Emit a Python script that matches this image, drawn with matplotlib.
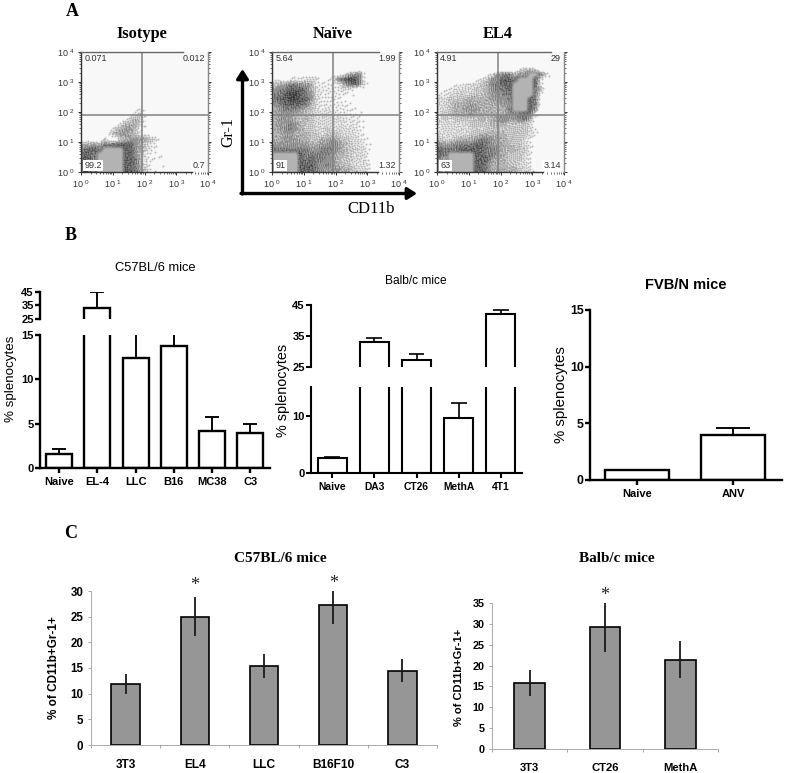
import matplotlib
matplotlib.use("Agg")
import matplotlib.pyplot as plt
import numpy as np

W, H = 786, 773
SANS = "Liberation Sans"
SERIF = "Liberation Serif"

# flow plots: dot density 0-9 read by eye, x = saturated grey core, top row first
iso_rows = [
    "", "", "", "", "", "", "", "",
    "000000000110", "", "",
    "0000000000220",
    "0000000002340",
    "000000012453",
    "0000001355531",
    "0000024566410",
    "000003566542100",
    "110040045666542100",
    "556577888865321",
    "7887xxxx88653210",
    "887xxxxx88642110",
    "887xxxxx88742111",
    "887xxxxx88742111",
    "887xxxxx88753100",
]
naive_rows = [
    "", "", "",
    "000100100111000011",
    "000111111101125672",
    "220222333012789972",
    "456776652222257873",
    "677888753222233200",
    "7789987632222211",
    "7889988632222110",
    "6788887532222211",
    "56777654323222211",
    "566655443333222210",
    "5666545433333322210",
    "5667654433333323210",
    "5667654433433333210",
    "5566555443444333210",
    "5566655445565443321",
    "6666666556676543321",
    "7777777667776544331",
    "xxxxx87777765543331",
    "xxxxx87877665443331",
    "xxxxx88876765443332",
    "xxxxx88876666554332",
]
el4_rows = [
    "", "", "",
    "000000000000000344300",
    "00000000023677566xx741",
    "000000023467887xxx83",
    "00122333457788xxxx82",
    "12233334456778xxxx75",
    "22334344456677xxxx72",
    "33444555556667xxx871",
    "33455565555566xxx871",
    "33455666555557xxx86",
    "3445556555555667872",
    "3434444454567667751",
    "333333444455544443",
    "2333333434444444432",
    "3333334455555444432",
    "433455567765544432",
    "666777788766554432",
    "877788888776555442",
    "87xxxxx88776544432",
    "75xxxxx88865544432",
    "75xxxxx88755544332",
    "75xxxxx88755555433",
]
flow_titles = ["Isotype", "Naïve", "EL4"]
flow_tl = ["0.071", "5.64", "4.91"]
flow_tr = ["0.012", "1.99", "29"]
flow_bl = ["99.2", "91", "63"]
flow_br = ["0.7", "1.32", "3.14"]

# panel B
b1_names = ["Naive", "EL-4", "LLC", "B16", "MC38", "C3"]
b1_vals = [1.6, 33, 12.4, 13.8, 4.2, 3.9]
b1_err = [0.5, 12, 3.6, 2.2, 1.5, 1.1]
b2_names = ["Naive", "DA3", "CT26", "MethA", "4T1"]
b2_vals = [2.6, 33.2, 27.4, 9.6, 42.1]
b2_err = [0.2, 1.2, 1.9, 2.6, 1.3]
b3_names = ["Naive", "ANV"]
b3_vals = [0.85, 4.0]
b3_err = [0, 0.55]

# panel C
c1_names = ["3T3", "EL4", "LLC", "B16F10", "C3"]
c1_vals = [11.9, 25, 15.4, 27.3, 14.5]
c1_err = [1.9, 3.8, 2.35, 3.7, 2.25]
c1_star = [None, 31.0, None, 31.4, None]
c2_names = ["3T3", "CT26", "MethA"]
c2_vals = [15.8, 29.2, 21.4]
c2_err = [3.2, 5.9, 4.4]
c2_star = [None, 36.7, None]

fig = plt.figure(figsize=(W / 100, H / 100), dpi=100)


def ax_px(left, top, right, bottom):
    return fig.add_axes([left / W, 1 - bottom / H, (right - left) / W, (bottom - top) / H])


def txt(x, y, s, **kw):
    kw.setdefault("ha", "center")
    kw.setdefault("va", "center")
    fig.text(x / W, 1 - y / H, s, **kw)


def upsample(grid, nw, nh):
    px = (np.arange(nw) + 0.5) / nw * grid.shape[1] - 0.5
    py = (np.arange(nh) + 0.5) / nh * grid.shape[0] - 0.5
    tmp = np.array([np.interp(px, np.arange(grid.shape[1]), r) for r in grid])
    return np.array([np.interp(py, np.arange(grid.shape[0]), c) for c in tmp.T]).T


def soften(img):
    pad = np.pad(img, 1, mode="edge")
    return (4 * img + pad[:-2, 1:-1] + pad[2:, 1:-1] + pad[1:-1, :-2] + pad[1:-1, 2:]) / 8


def speckle(rows, nw=127, nh=120):
    # turn the density grid into dots by error diffusion
    clean = [r.ljust(24, "0")[:24] for r in rows]
    dens = np.array([[9 if c == "x" else int(c) for c in r] for r in clean], dtype=float)
    core = np.array([[1.0 if c == "x" else 0.0 for c in r] for r in clean])
    d = (upsample(dens, nw, nh) / 10) ** 1.5
    c = upsample(core, nw, nh)
    for _ in range(4):
        c = soften(c)
    c = np.clip(c * 1.4 - 0.2, 0, 1)
    dots = np.zeros((nh, nw))
    for j in range(nh):
        for i in range(nw):
            old = d[j, i]
            dots[j, i] = 1.0 if old > 0.5 else 0.0
            e = old - dots[j, i]
            if i + 1 < nw:
                d[j, i + 1] += e * 7 / 16
            if j + 1 < nh:
                if i > 0:
                    d[j + 1, i - 1] += e * 3 / 16
                d[j + 1, i] += e * 5 / 16
                if i + 1 < nw:
                    d[j + 1, i + 1] += e * 1 / 16
    img = soften(soften(0.97 - 0.8 * dots))
    return img * (1 - c) + 0.7 * c


def flow(left, rows, title, tl, tr, bl, br, top_end, bot_end):
    ax = ax_px(left, 52, left + 127, 172)
    ax.imshow(speckle(rows), cmap="gray", vmin=0, vmax=1, extent=(0, 4, 0, 4),
              interpolation="nearest", aspect="auto")
    ax.axvline(1.92, color="#808080", lw=1.1)
    ax.axhline(1.9, color="#808080", lw=1.1)
    ax.set_xlim(0, 4)
    ax.set_ylim(0, 4)
    ax.set_xticks(range(5))
    ax.set_yticks(range(5))
    ax.set_xticklabels(["$\\mathregular{10^{\\ %d}}$" % i for i in range(5)], fontsize=6.5, family=SANS, color="#333333")
    ax.set_yticklabels(["$\\mathregular{10^{\\ %d}}$" % i for i in range(5)], fontsize=6.5, family=SANS, color="#333333")
    minor = [d + np.log10(m) for d in range(4) for m in range(2, 10)]
    ax.set_xticks(minor, minor=True)
    ax.set_yticks(minor, minor=True)
    ax.tick_params(which="major", length=2.5, width=0.7, pad=2, color="#333333", right=True)
    ax.tick_params(which="minor", length=1.3, width=0.5, color="#333333", right=True)
    for s in ax.spines.values():
        s.set_linewidth(1.0)
    ax.spines["top"].set_color("#666666")
    ax.spines["right"].set_color("#888888")
    ax.spines["left"].set_color("#333333")
    ax.spines["bottom"].set_color("#333333")
    ax.spines["top"].set_bounds(0, top_end)
    ax.spines["bottom"].set_bounds(0, bot_end)
    st = dict(fontsize=6.5, family=SANS, color="#333333", va="center")
    ax.text(0.1, 3.77, tl, ha="left", **st)
    ax.text(3.9, 3.77, tr, ha="right", **st)
    box = dict(facecolor="white", edgecolor="none", pad=1)
    ax.text(0.1, 0.22, bl, ha="left", bbox=box, **st)
    ax.text(3.9, 0.22, br, ha="right", bbox=box, **st)
    txt(left + 61, 34, title, family=SERIF, weight="bold", fontsize=11.8)


flow(81, iso_rows, flow_titles[0], flow_tl[0], flow_tr[0], flow_bl[0], flow_br[0], 3.2, 3.5)
flow(272, naive_rows, flow_titles[1], flow_tl[1], flow_tr[1], flow_bl[1], flow_br[1], 3.37, 3.35)
flow(437, el4_rows, flow_titles[2], flow_tl[2], flow_tr[2], flow_bl[2], flow_br[2], 3.6, 3.35)

# big arrows
over = fig.add_axes([0, 0, 1, 1])
over.set_xlim(0, W)
over.set_ylim(H, 0)
over.axis("off")
arrow = dict(arrowstyle="-|>,head_width=0.35,head_length=0.55", lw=2.4, color="black", shrinkA=0, shrinkB=0)
over.annotate("", xy=(242.5, 69), xytext=(242.5, 194), arrowprops=arrow)
over.annotate("", xy=(417, 193.5), xytext=(241, 193.5), arrowprops=arrow)
txt(228, 132, "Gr-1", family=SERIF, fontsize=11.5, rotation=90)
txt(371, 209, "CD11b", family=SERIF, fontsize=12)

txt(72, 12, "A", family=SERIF, weight="bold", fontsize=13)
txt(71, 235, "B", family=SERIF, weight="bold", fontsize=13)
txt(71, 534, "C", family=SERIF, weight="bold", fontsize=13)


def prism(ax, names, vals, err, width, xlim, ylim, ticks, lw=1.7, tick_fs=8, name_fs=8, show_x=True):
    x = np.arange(len(vals))
    ax.bar(x, vals, width=width, color="white", edgecolor="black", linewidth=lw, zorder=2)
    tops = [v + e for v, e in zip(vals, err)]
    ax.vlines(x, vals, tops, color="black", lw=lw * 0.8, zorder=1)
    ax.hlines(tops, x - width * 0.27, x + width * 0.27, color="black", lw=lw * 0.8, zorder=1)
    ax.set_xlim(*xlim)
    ax.set_ylim(*ylim)
    ax.set_yticks(ticks)
    ax.set_yticklabels([str(t) for t in ticks], fontsize=tick_fs, family=SANS, weight="bold")
    ax.spines["top"].set_visible(False)
    ax.spines["right"].set_visible(False)
    ax.spines["left"].set_linewidth(lw)
    ax.tick_params(axis="y", length=3.5, width=lw, pad=1)
    if show_x:
        ax.spines["bottom"].set_linewidth(lw)
        ax.set_xticks(x)
        ax.set_xticklabels(names, fontsize=name_fs, family=SANS, weight="bold")
        ax.tick_params(axis="x", length=3.5, width=lw, pad=3)
    else:
        ax.spines["bottom"].set_visible(False)
        ax.set_xticks([])


# B left, broken axis
ax = ax_px(40, 335, 270, 468)
prism(ax, b1_names, b1_vals, b1_err, 0.68, (-0.5, 5.52), (0, 15), [0, 5, 10, 15])
ax = ax_px(40, 292, 270, 319)
prism(ax, b1_names, b1_vals, b1_err, 0.68, (-0.5, 5.52), (25, 45), [25, 35, 45], show_x=False)
txt(155, 268, "C57BL/6 mice", family=SANS, fontsize=9.3)
txt(11, 379, "% splenocytes", family=SANS, fontsize=9.6, rotation=90)

# B middle, broken axis
ax = ax_px(311, 387, 522, 473)
prism(ax, b2_names, b2_vals, b2_err, 0.69, (-0.5, 4.5), (0, 15), [0, 10], lw=1.5, name_fs=7.4)
ax = ax_px(311, 305, 522, 367)
prism(ax, b2_names, b2_vals, b2_err, 0.69, (-0.5, 4.5), (25, 45), [25, 35, 45], lw=1.5, show_x=False)
txt(416, 281, "Balb/c mice", family=SANS, fontsize=8.6)
txt(283, 390, "% splenocytes", family=SANS, fontsize=10.4, rotation=90)

# B right
ax = ax_px(590, 310, 782, 480)
prism(ax, b3_names, b3_vals, b3_err, 0.67, (-0.49, 1.51), (0, 15), [0, 5, 10, 15], tick_fs=8.8)
txt(686, 285, "FVB/N mice", family=SANS, weight="bold", fontsize=10.5)
txt(561, 395, "% splenocytes", family=SANS, fontsize=10.8, rotation=90)


def excel(ax, names, vals, err, star, ylim, ticks, fs):
    x = np.arange(len(vals))
    ax.bar(x, vals, width=0.41, color="#969696", edgecolor="black", linewidth=1.2, zorder=2)
    ax.errorbar(x, vals, yerr=err, fmt="none", ecolor="#1a1a1a", elinewidth=1.3, capsize=0, zorder=3)
    for i, s in enumerate(star):
        if s is not None:
            ax.text(i, s, "*", family=SERIF, fontsize=13, ha="center", va="center", color="#222222")
    ax.set_xlim(-0.5, len(vals) - 0.5)
    ax.set_ylim(*ylim)
    ax.set_yticks(ticks)
    ax.set_yticklabels([str(t) for t in ticks], fontsize=fs, family=SANS, weight="bold")
    ax.set_xticks(np.arange(len(vals) + 1) - 0.5)
    ax.set_xticklabels([])
    ax.set_xticks(x, names, minor=True, fontsize=fs + 0.3, family=SANS, weight="bold")
    ax.tick_params(axis="x", which="minor", length=0, pad=10)
    ax.tick_params(axis="both", which="major", length=2.5, width=0.6, color="#999999", pad=3)
    ax.spines["top"].set_visible(False)
    ax.spines["right"].set_visible(False)
    ax.spines["left"].set_color("#aaaaaa")
    ax.spines["bottom"].set_color("#aaaaaa")
    ax.spines["left"].set_linewidth(0.7)
    ax.spines["bottom"].set_linewidth(0.7)


# C
ax = ax_px(91, 591, 437, 745)
excel(ax, c1_names, c1_vals, c1_err, c1_star, (0, 30), [0, 5, 10, 15, 20, 25, 30], 8.3)
txt(280, 558, "C57BL/6 mice", family=SERIF, weight="bold", fontsize=11)
txt(54, 668, "% of CD11b+Gr-1+", family=SANS, weight="bold", fontsize=8.5, rotation=90)

ax = ax_px(492, 603, 718, 749)
excel(ax, c2_names, c2_vals, c2_err, c2_star, (0, 35), [0, 5, 10, 15, 20, 25, 30, 35], 7.8)
txt(617, 558, "Balb/c mice", family=SERIF, weight="bold", fontsize=11)
txt(459, 677, "% of CD11b+Gr-1+", family=SANS, weight="bold", fontsize=8, rotation=90)

fig.savefig("out.png", dpi=100)
